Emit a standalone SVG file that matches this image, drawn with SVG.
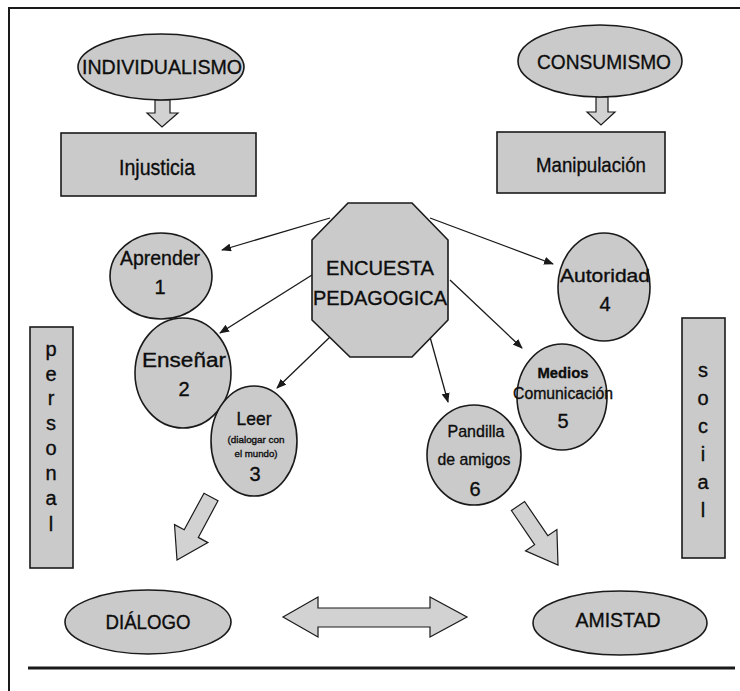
<svg xmlns="http://www.w3.org/2000/svg" width="740" height="691" viewBox="0 0 740 691">
<defs>
<style>
.sh{fill:#cacaca;stroke:#1a1a1a;stroke-width:1.6}
.ba{fill:#d2d2d2;stroke:#1a1a1a;stroke-width:1.2}
.t{font-family:"Liberation Sans",Arial,sans-serif;fill:#0d0d0d;stroke:#0d0d0d;stroke-width:0.35;text-anchor:middle}
.ln{stroke:#1a1a1a;stroke-width:1.3;fill:none}
</style>
<marker id="ah" markerWidth="10" markerHeight="8" refX="9" refY="4" orient="auto" markerUnits="userSpaceOnUse">
<path d="M0,0 L10,4 L0,8 Z" fill="#1a1a1a"/>
</marker>
</defs>
<rect width="740" height="691" fill="#ffffff"/>
<g id="frame">
<line x1="8" y1="8" x2="740" y2="8" stroke="#1a1a1a" stroke-width="2"/>
<line x1="9" y1="7" x2="9" y2="691" stroke="#1a1a1a" stroke-width="2"/>
<line x1="28" y1="668" x2="735" y2="668" stroke="#1a1a1a" stroke-width="3"/>
</g>
<g id="connectors">
<polygon class="ba" points="155,100 170,100 170,113 178,113 162,127 147,113 155,113"/>
<polygon class="ba" points="596,97 608,97 608,112 615,112 601,125 587,112 596,112"/>
<line class="ln" x1="330" y1="218" x2="222" y2="250" marker-end="url(#ah)"/>
<line class="ln" x1="312" y1="275" x2="220" y2="333" marker-end="url(#ah)"/>
<line class="ln" x1="330" y1="337" x2="277" y2="388" marker-end="url(#ah)"/>
<line class="ln" x1="430" y1="337" x2="448" y2="402" marker-end="url(#ah)"/>
<line class="ln" x1="430" y1="218" x2="553" y2="264" marker-end="url(#ah)"/>
<line class="ln" x1="450" y1="280" x2="522" y2="348" marker-end="url(#ah)"/>
<polygon class="ba" points="218,500.8 198.3,537.4 207.9,542.6 177,560 174.5,524.6 184.2,529.8 204,493.2"/>
<polygon class="ba" points="511.4,510.5 534.6,544.7 525.5,550.9 558,565 556.9,529.5 547.8,535.7 524.6,501.5"/>
<polygon class="ba" points="283,617 318,597 318,608 430,608 430,597 467,617 430,637 430,627 318,627 318,637"/>
</g>
<g id="individualismo">
<ellipse class="sh" cx="161" cy="67" rx="83" ry="33"/>
<text class="t" x="162" y="74" font-size="21" textLength="160" lengthAdjust="spacingAndGlyphs">INDIVIDUALISMO</text>
</g>
<g id="consumismo">
<ellipse class="sh" cx="600" cy="61" rx="82" ry="36"/>
<text class="t" x="604" y="69" font-size="21" textLength="134" lengthAdjust="spacingAndGlyphs">CONSUMISMO</text>
</g>
<g id="injusticia">
<rect class="sh" x="61" y="133" width="195" height="63"/>
<text class="t" x="157" y="175" font-size="22" textLength="76" lengthAdjust="spacingAndGlyphs">Injusticia</text>
</g>
<g id="manipulacion">
<rect class="sh" x="497" y="132" width="168" height="61"/>
<text class="t" x="591" y="172" font-size="21" textLength="110" lengthAdjust="spacingAndGlyphs">Manipulación</text>
</g>
<g id="encuesta">
<polygon class="sh" points="348,203 412,203 448,240 448,320 412,357 350,357 312,320 312,240"/>
<text class="t" x="380" y="275" font-size="20" textLength="108" lengthAdjust="spacingAndGlyphs">ENCUESTA</text>
<text class="t" x="380" y="305" font-size="20" textLength="134" lengthAdjust="spacingAndGlyphs">PEDAGOGICA</text>
</g>
<g id="aprender">
<ellipse class="sh" cx="161" cy="276" rx="51" ry="43"/>
<text class="t" x="160" y="265" font-size="20" textLength="80" lengthAdjust="spacingAndGlyphs">Aprender</text>
<text class="t" x="160" y="294" font-size="20">1</text>
</g>
<g id="ensenar">
<ellipse class="sh" cx="183" cy="373" rx="48" ry="55"/>
<text class="t" x="184" y="367" font-size="20" textLength="84" lengthAdjust="spacingAndGlyphs">Enseñar</text>
<text class="t" x="184" y="396" font-size="20">2</text>
</g>
<g id="leer">
<ellipse class="sh" cx="254" cy="441" rx="43" ry="55"/>
<text class="t" x="254" y="425" font-size="19" textLength="35" lengthAdjust="spacingAndGlyphs">Leer</text>
<text class="t" x="256" y="443" font-size="9.5" stroke-width="0.15" textLength="57" lengthAdjust="spacingAndGlyphs">(dialogar con</text>
<text class="t" x="256" y="457" font-size="9.5" stroke-width="0.15" textLength="43" lengthAdjust="spacingAndGlyphs">el mundo)</text>
<text class="t" x="255" y="481" font-size="20">3</text>
</g>
<g id="autoridad">
<ellipse class="sh" cx="604" cy="287" rx="46" ry="54"/>
<text class="t" x="605" y="282" font-size="19" textLength="90" lengthAdjust="spacingAndGlyphs">Autoridad</text>
<text class="t" x="605" y="311" font-size="20">4</text>
</g>
<g id="medios">
<ellipse class="sh" cx="562" cy="397" rx="45" ry="53"/>
<text class="t" x="563" y="378" font-size="15" font-weight="bold" textLength="51" lengthAdjust="spacingAndGlyphs">Medios</text>
<text class="t" x="563" y="399" font-size="16" textLength="100" lengthAdjust="spacingAndGlyphs">Comunicación</text>
<text class="t" x="563" y="428" font-size="20">5</text>
</g>
<g id="pandilla">
<ellipse class="sh" cx="474" cy="455" rx="47" ry="50"/>
<text class="t" x="476" y="437" font-size="17" textLength="57" lengthAdjust="spacingAndGlyphs">Pandilla</text>
<text class="t" x="474" y="465" font-size="17" textLength="73" lengthAdjust="spacingAndGlyphs">de amigos</text>
<text class="t" x="475" y="496" font-size="20">6</text>
</g>
<g id="personal">
<rect class="sh" x="30" y="327" width="43" height="241"/>
<g class="t" font-size="20" stroke-width="0.2">
<text x="51" y="356">p</text>
<text x="51" y="381">e</text>
<text x="51" y="405">r</text>
<text x="51" y="430">s</text>
<text x="51" y="455">o</text>
<text x="51" y="480">n</text>
<text x="51" y="505">a</text>
<text x="51" y="531">l</text>
</g>
</g>
<g id="social">
<rect class="sh" x="682" y="318" width="43" height="240"/>
<g class="t" font-size="20" stroke-width="0.2">
<text x="703" y="377">s</text>
<text x="703" y="405">o</text>
<text x="703" y="433">c</text>
<text x="703" y="461">i</text>
<text x="703" y="489">a</text>
<text x="703" y="517">l</text>
</g>
</g>
<g id="dialogo">
<ellipse class="sh" cx="148" cy="622" rx="83" ry="32"/>
<text class="t" x="148" y="629" font-size="20" textLength="85" lengthAdjust="spacingAndGlyphs">DIÁLOGO</text>
</g>
<g id="amistad">
<ellipse class="sh" cx="620" cy="623" rx="87" ry="32"/>
<text class="t" x="618" y="627" font-size="20" textLength="85" lengthAdjust="spacingAndGlyphs">AMISTAD</text>
</g>
</svg>
